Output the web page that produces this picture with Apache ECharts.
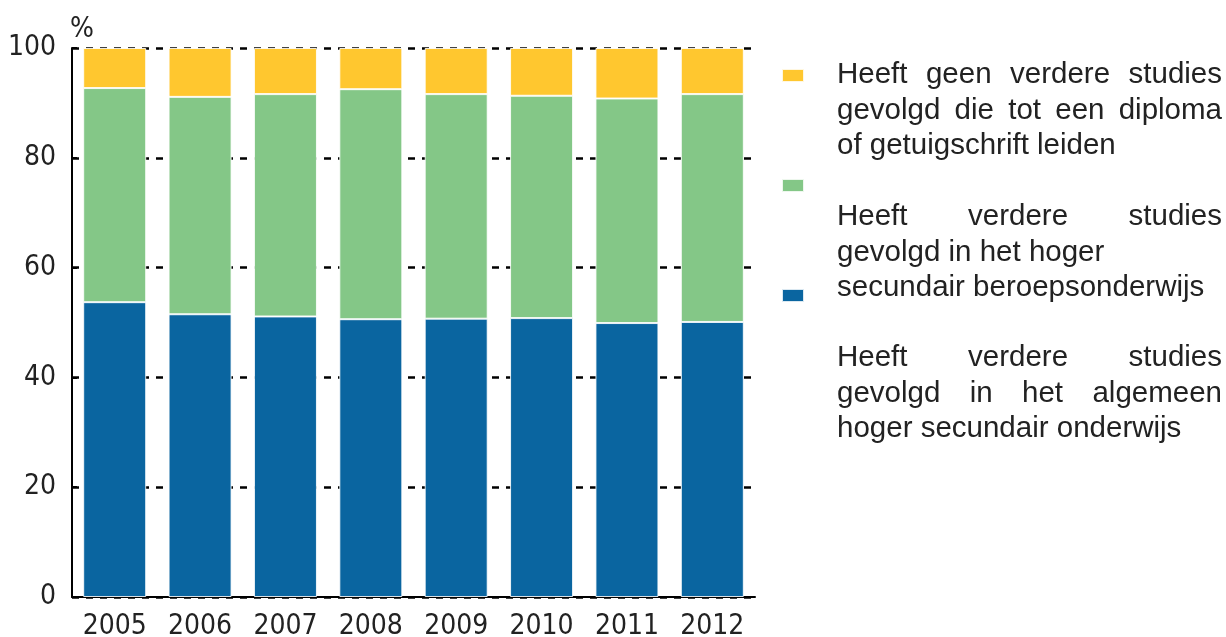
<!DOCTYPE html>
<html>
<head>
<meta charset="utf-8">
<script src="https://cdn.jsdelivr.net/npm/echarts@6/dist/echarts.min.js"></script>
<style>
html,body{margin:0;padding:0;background:#fff}
#chart{width:1226px;height:637px}
</style>
</head>
<body>
<div id="chart"></div>
<script>
var years = ['2005','2006','2007','2008','2009','2010','2011','2012'];
var algemeen = [53.7, 51.5, 51.1, 50.6, 50.7, 50.8, 49.9, 50.1];
var beroeps = [39.0, 39.6, 40.5, 41.9, 40.9, 40.5, 40.9, 41.5];
var geen = [7.3, 8.9, 8.4, 7.5, 8.4, 8.7, 9.2, 8.4];
var yTicks = [0, 20, 40, 60, 80, 100];

var nameGeen = 'Heeft geen verdere studies gevolgd die tot een diploma of getuigschrift leiden';
var nameBeroeps = 'Heeft verdere studies gevolgd in het hoger secundair beroepsonderwijs';
var nameAlgemeen = 'Heeft verdere studies gevolgd in het algemeen hoger secundair onderwijs';

// legend text lines as in the picture: [text, justified]
var legendLines = [
  [['Heeft geen verdere studies', true], ['gevolgd die tot een diploma', true], ['of getuigschrift leiden', false]],
  [['Heeft verdere studies', true], ['gevolgd in het hoger', false], ['secundair beroepsonderwijs', false]],
  [['Heeft verdere studies', true], ['gevolgd in het algemeen', true], ['hoger secundair onderwijs', false]]
];
var blockTops = [75, 217, 358];

var axisFont = '"DejaVu Sans Condensed", "DejaVu Sans", sans-serif';
var legendFont = '"Liberation Sans", Arial, sans-serif';
var legendSize = 29.5;

var ctx = document.createElement('canvas').getContext('2d');
ctx.font = legendSize + 'px ' + legendFont;

function lineWords(text, justify, y){
  var words = text.split(' '), out = [], x0 = 837, x1 = 1222;
  if(!justify){
    out.push({type:'text', x:x0, y:y, style:{text:text, font:legendSize+'px '+legendFont, fill:'#222', verticalAlign:'middle'}});
    return out;
  }
  var total = 0;
  words.forEach(function(w){ total += ctx.measureText(w).width });
  var gap = (x1 - x0 - total) / (words.length - 1), x = x0;
  words.forEach(function(w){
    out.push({type:'text', x:x, y:y, style:{text:w, font:legendSize+'px '+legendFont, fill:'#222', verticalAlign:'middle'}});
    x += ctx.measureText(w).width + gap;
  });
  return out;
}

var texts = [];
legendLines.forEach(function(block, b){
  block.forEach(function(l, i){
    texts = texts.concat(lineWords(l[0], l[1], blockTops[b] + i * 35.5));
  });
});

var barStyle = function(c){
  return {color:c, borderColor:'rgba(255,255,255,0.85)', borderWidth:1};
};

var opt = {
  animation:false,
  grid:{left:72, right:471, top:48, bottom:40, outerBoundsMode:'none', containLabel:false},
  legend:{
    orient:'vertical', left:776, top:63,
    itemWidth:22, itemHeight:13, itemGap:95,
    icon:'rect',
    data:[nameGeen, nameBeroeps, nameAlgemeen],
    formatter:function(){ return '' },
    textStyle:{fontSize:1},
    selectedMode:false
  },
  xAxis:{
    type:'category',
    data:years,
    axisLine:{lineStyle:{color:'#000', width:2}},
    axisTick:{show:false},
    axisLabel:{color:'#222', fontSize:28, fontFamily:axisFont, margin:16}
  },
  yAxis:{
    type:'value',
    min:yTicks[0], max:yTicks[yTicks.length-1], interval:20,
    name:'%',
    nameLocation:'end',
    nameGap:4,
    nameTextStyle:{color:'#222', fontSize:28, fontFamily:axisFont, align:'left', padding:[0,0,0,-2]},
    axisLine:{show:true, lineStyle:{color:'#000', width:2}},
    axisTick:{show:true, inside:true, length:5, lineStyle:{color:'#000', width:2}},
    axisLabel:{color:'#222', fontSize:28, fontFamily:axisFont, margin:16},
    splitLine:{show:true, lineStyle:{color:'#000', width:2.5, type:[7,7]}}
  },
  series:[
    {name:nameAlgemeen, type:'bar', stack:'a', barWidth:63, data:algemeen, itemStyle:barStyle('#0a65a0')},
    {name:nameBeroeps, type:'bar', stack:'a', barWidth:63, data:beroeps, itemStyle:barStyle('#84c787')},
    {name:nameGeen, type:'bar', stack:'a', barWidth:63, data:geen, itemStyle:barStyle('#ffc72f')}
  ],
  graphic:texts
};

var ec = echarts.init(document.getElementById('chart'));
ec.setOption(opt);
</script>
</body>
</html>
